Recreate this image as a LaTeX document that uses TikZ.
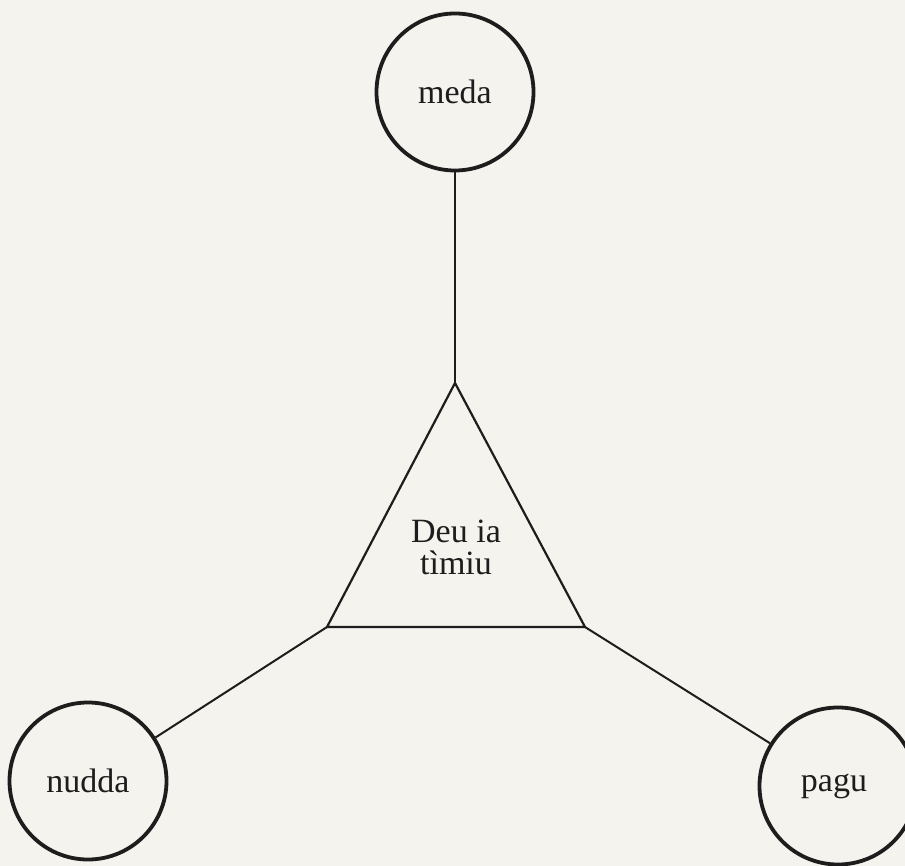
\documentclass[tikz,border=0pt]{standalone}
\usepackage{fontspec}
\setmainfont{Liberation Serif}
\definecolor{paper}{HTML}{F5F3EE}
\definecolor{ink}{HTML}{1E1C1C}
\begin{document}
\begin{tikzpicture}[x=1pt,y=-1pt,
  term/.style={circle,draw=ink,line width=3.8pt,minimum size=157pt,inner sep=0pt,
    font=\fontsize{34}{36}\selectfont,text=ink},
  edge/.style={draw=ink,line width=2pt},
  tri/.style={draw=ink,line width=2.2pt,line join=miter}]
  \fill[paper] (0,0) rectangle (905,866);
  \useasboundingbox (0,0) rectangle (905,866);
  \clip (0,0) rectangle (905,866);

  % corners of the central triangle
  \coordinate (apex) at (455,383);
  \coordinate (bl) at (327,627);
  \coordinate (br) at (585,627);
  \draw[tri] (apex) -- (bl) -- (br) -- cycle;
  \node[align=center,text=ink,font=\fontsize{34}{32}\selectfont] (core) at (456,547)
    {Deu ia\\tìmiu};

  % the three outer terms
  \node[term] (meda) at (455,92) {meda};
  \node[term] (nudda) at (88,781) {nudda};
  \node[term] (pagu) at (838,786) {\hspace*{-8pt}pagu};

  \draw[edge] (meda) -- (apex);
  \draw[edge] (nudda) -- (bl);
  \draw[edge] (pagu) -- (br);
\end{tikzpicture}
\end{document}
